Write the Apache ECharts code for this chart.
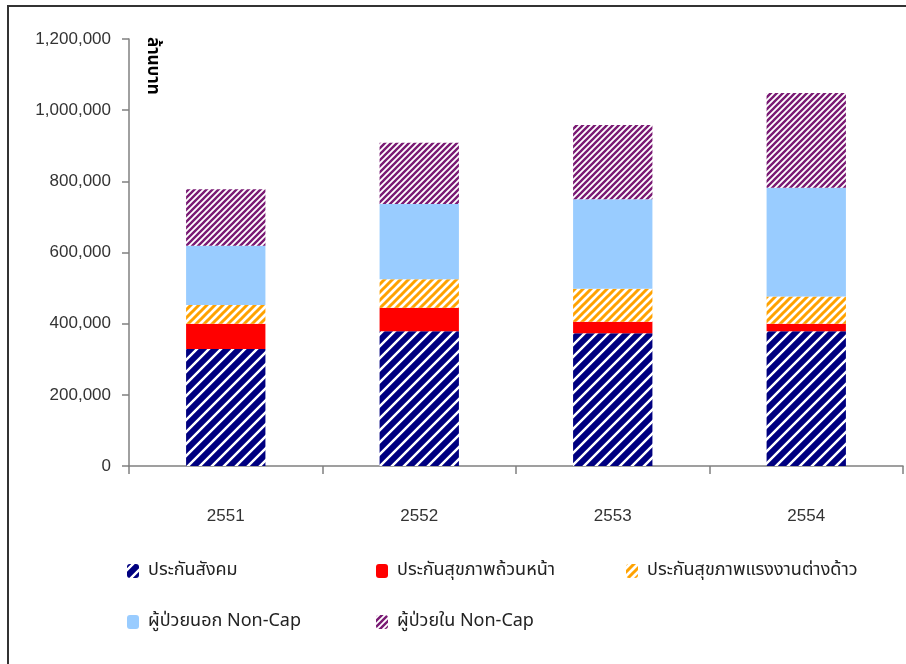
<!DOCTYPE html>
<html>
<head>
<meta charset="utf-8">
<script src="https://cdn.jsdelivr.net/npm/echarts@6/dist/echarts.min.js"></script>
<style>
  html, body { margin: 0; padding: 0; background: #fff; }
  #chart { width: 906px; height: 664px; }
</style>
</head>
<body>
<div id="chart"></div>
<script>
// ข้อมูลจากภาพ
const years = ["2551", "2552", "2553", "2554"];
const socialSecurity = [329000, 379000, 373000, 379000];
const universalCoverage = [71000, 66000, 32500, 21000];
const migrantWorkers = [52500, 80000, 92500, 76000];
const opdNonCap = [166500, 211000, 251500, 306000];
const ipdNonCap = [158500, 172500, 208500, 266000];

const seriesNames = [
  "ประกันสังคม",
  "ประกันสุขภาพถ้วนหน้า",
  "ประกันสุขภาพแรงงานต่างด้าว",
  "ผู้ป่วยนอก Non-Cap",
  "ผู้ป่วยใน Non-Cap"
];
const yTicks = [0, 200000, 400000, 600000, 800000, 1000000, 1200000];

// ลายเส้นทแยง "/"
function stripes(fg, bg, size, width) {
  const c = document.createElement("canvas");
  c.width = size;
  c.height = size;
  const ctx = c.getContext("2d");
  ctx.fillStyle = bg;
  ctx.fillRect(0, 0, size, size);
  ctx.strokeStyle = fg;
  ctx.lineWidth = width;
  ctx.beginPath();
  // เส้น x + y = k, ลากเกินขอบ tile
  for (let k = 0; k <= 2 * size; k += size) {
    ctx.moveTo(k + size, -size);
    ctx.lineTo(k - 2 * size, 2 * size);
  }
  ctx.stroke();
  return { image: c, repeat: "repeat" };
}

const navyPat = stripes("#000080", "#ffffff", 12, 6);
const orangePat = stripes("#ffa200", "#ffffff", 8, 3);
const purplePat = stripes("#7a1a74", "#ffffff", 6, 2.4);

const fills = [navyPat, "#ff0000", orangePat, "#99ccff", purplePat];
const values = [socialSecurity, universalCoverage, migrantWorkers, opdNonCap, ipdNonCap];

const chart = echarts.init(document.getElementById("chart"));

const thaiFont = "'Noto Sans Thai', 'Tahoma', sans-serif";

// ตำแหน่งคำอธิบาย
const legendPos = [
  [127, 562], [376, 562], [626, 562],
  [127, 613], [376, 613]
];

chart.setOption({
  animation: false,
  grid: { left: 129, right: 3, top: 39, bottom: 198 },
  xAxis: {
    type: "category",
    data: years,
    axisLine: { lineStyle: { color: "#808080", width: 1.5 } },
    axisTick: { show: true, length: 8, lineStyle: { color: "#808080", width: 1.5 } },
    axisLabel: { color: "#333", fontSize: 17, margin: 42, fontFamily: "Liberation Sans, Arial" }
  },
  yAxis: {
    type: "value",
    min: 0,
    max: 1200000,
    interval: 200000,
    splitLine: { show: false },
    axisLine: { show: true, lineStyle: { color: "#808080", width: 1.5 } },
    axisTick: { show: true, length: 7, lineStyle: { color: "#808080", width: 1.5 } },
    axisLabel: {
      color: "#333",
      fontSize: 17,
      margin: 18,
      fontFamily: "Liberation Sans, Arial",
      formatter: (v) => v.toLocaleString("en-US")
    }
  },
  legend: legendPos.map((p, i) => ({
    left: p[0],
    top: p[1],
    data: [seriesNames[i]],
    itemWidth: 12,
    itemHeight: 14,
    itemGap: 0,
    padding: 0,
    selectedMode: false,
    textStyle: { color: "#222", fontSize: 18, fontFamily: thaiFont, padding: [0, 0, 0, 4] }
  })),
  graphic: [
    {
      type: "rect",
      shape: { x: 8, y: 6, width: 920, height: 700 },
      style: { fill: "none", stroke: "#333", lineWidth: 2 },
      silent: true
    },
    {
      type: "text",
      x: 151,
      y: 37,
      rotation: -Math.PI / 2,
      style: {
        text: "ล้านบาท",
        fill: "#000",
        font: "bold 17px " + thaiFont,
        textAlign: "left",
        textVerticalAlign: "middle"
      }
    }
  ],
  series: seriesNames.map((name, i) => ({
    name: name,
    type: "bar",
    stack: "total",
    data: values[i],
    barCategoryGap: "59%",
    itemStyle: { color: fills[i] }
  }))
});
</script>
</body>
</html>
